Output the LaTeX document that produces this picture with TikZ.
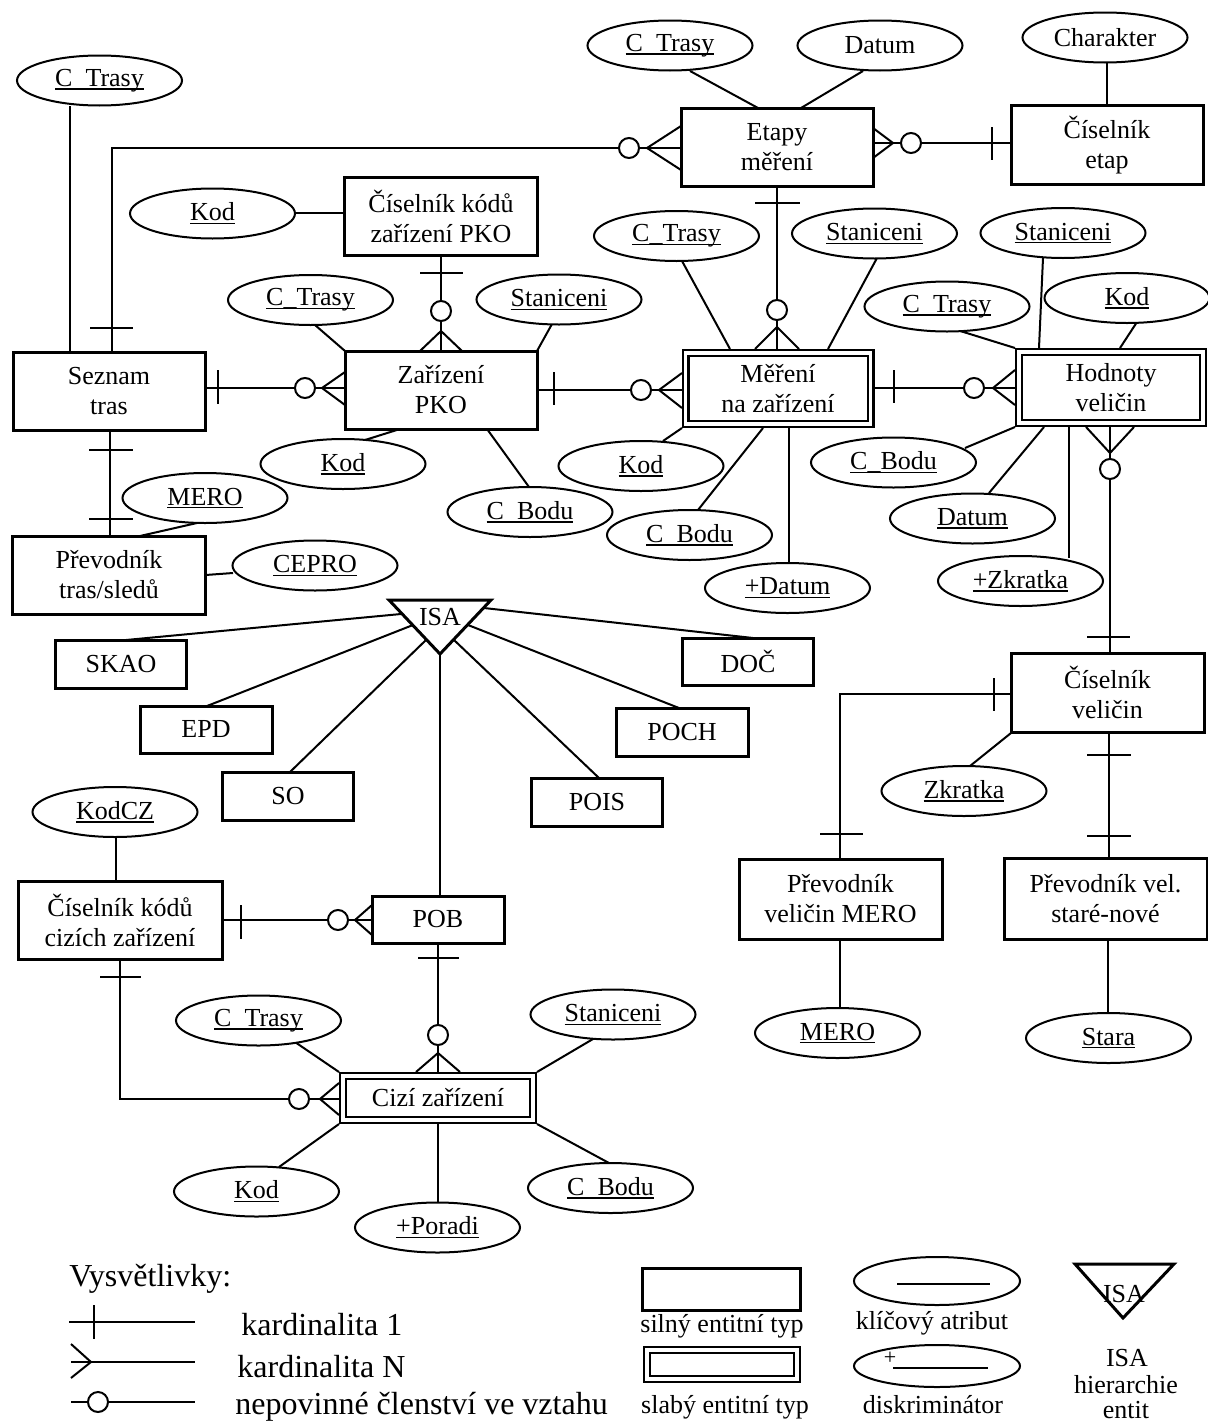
\documentclass[tikz,border=0pt]{standalone}
\usepackage{fontspec}
\setmainfont{Liberation Serif}
\usetikzlibrary{shapes.geometric,calc}
\pgfdeclarelayer{background}
\pgfsetlayers{background,main}
\newcommand\dfont{\fontsize{13}{15}\selectfont}
\newcommand\lfont{\fontsize{16}{18}\selectfont}
\newcommand\keyu[1]{\setbox0=\hbox{#1}\rlap{\rule[-1.6pt]{\wd0}{0.6pt}}\box0}
\begin{document}
\begin{tikzpicture}[x=0.5pt,y=-0.5pt,
  ent/.style={draw,line width=1.5pt,fill=white,align=center,inner sep=0pt,font=\dfont},
  weak/.style={ent,double,line width=1.2pt,double distance=1.6pt},
  attr/.style={ellipse,draw,line width=1pt,fill=white,minimum width=82.5pt,minimum height=25pt,inner sep=0pt,font=\dfont},
  conn/.style={line width=1pt},
  opt/.style={draw,line width=1pt,fill=white},
  lab/.style={font=\dfont,inner sep=0pt,anchor=base},
  leg/.style={font=\lfont,inner sep=0pt,anchor=base west}]
\useasboundingbox (0,0) rectangle (1208,1424);

% ---------- entities ----------
\node[ent,minimum width=96pt,minimum height=39pt] (seznam) at (109,391) {Seznam\\tras};
\node[ent,minimum width=96pt,minimum height=39pt] (etapy) at (777,147) {Etapy\\měření};
\node[ent,minimum width=96pt,minimum height=39.5pt] (cisetap) at (1107,145) {Číselník\\etap};
\node[ent,minimum width=96.5pt,minimum height=39pt] (ckpko) at (441,216) {Číselník kódů\\zařízení PKO};
\node[ent,minimum width=96pt,minimum height=39pt] (zarizeni) at (441,390) {Zařízení\\PKO};
\node[weak,minimum width=92.5pt,minimum height=35.5pt] (mereni) at (778,388.5) {Měření\\na zařízení};
\node[weak,minimum width=92pt,minimum height=35.5pt] (hodnoty) at (1111,387.5) {Hodnoty\\veličin};
\node[ent,minimum width=96.5pt,minimum height=39pt] (prevtras) at (109,575) {Převodník\\tras/sledů};
\node[ent,minimum width=65.5pt,minimum height=24pt] (skao) at (121,664) {SKAO};
\node[ent,minimum width=66pt,minimum height=23.5pt] (epd) at (206,729.5) {EPD};
\node[ent,minimum width=65.5pt,minimum height=24pt] (so) at (288,796) {SO};
\node[ent,minimum width=65.5pt,minimum height=24pt] (pois) at (597,802) {POIS};
\node[ent,minimum width=66pt,minimum height=24pt] (poch) at (682,732) {POCH};
\node[ent,minimum width=65.5pt,minimum height=23.5pt] (doc) at (748,661.5) {DOČ};
\node[ent,minimum width=96.5pt,minimum height=39.5pt] (cisvel) at (1107.5,692.5) {Číselník\\veličin};
\node[ent,minimum width=101.5pt,minimum height=40pt] (prevmero) at (840.5,899) {Převodník\\veličin MERO};
\node[ent,minimum width=101.5pt,minimum height=40.5pt] (prevsn) at (1105.5,898.5) {Převodník vel.\\staré-nové};
\node[ent,minimum width=102pt,minimum height=39pt] (ckciz) at (120,920) {Číselník kódů\\cizích zařízení};
\node[ent,minimum width=66pt,minimum height=23.5pt] (pob) at (438,919.5) {POB};
\node[weak,minimum width=95pt,minimum height=22pt] (cizi) at (438,1098) {Cizí zařízení};

% ---------- ISA ----------
\coordinate (isac) at (440,617);
\draw[line width=1.5pt,fill=white] ($(isac)+(-51,-17)$) -- ($(isac)+(51,-17)$) -- ($(isac)+(0,37)$) -- cycle;
\node[font=\dfont,inner sep=0pt] (isa) at (isac) {ISA};

% ---------- attributes ----------
\node[attr] (a1) at (99.5,80.5) {\keyu{C\_Trasy}};
\node[attr] (a2) at (670,45.5) {\keyu{C\_Trasy}};
\node[attr] (a3) at (880,45.5) {Datum};
\node[attr] (a4) at (1105,37.5) {Charakter};
\node[attr] (a5) at (212.5,213.5) {\keyu{Kod}};
\node[attr] (a6) at (310.5,300) {\keyu{C\_Trasy}};
\node[attr] (a7) at (559,299.5) {\keyu{Staniceni}};
\node[attr] (a8) at (676.5,236) {\keyu{C\_Trasy}};
\node[attr] (a9) at (874.5,233.5) {\keyu{Staniceni}};
\node[attr] (a10) at (1063,233) {\keyu{Staniceni}};
\node[attr] (a11) at (947,306.5) {\keyu{C\_Trasy}};
\node[attr] (a12) at (1127,298) {\keyu{Kod}};
\node[attr] (a13) at (343,464) {\keyu{Kod}};
\node[attr] (a14) at (530,512) {\keyu{C\_Bodu}};
\node[attr] (a15) at (641,466) {\keyu{Kod}};
\node[attr] (a16) at (689.5,535) {\keyu{C\_Bodu}};
\node[attr] (a17) at (787.5,588) {\keyu{+Datum}};
\node[attr] (a18) at (893.5,462.5) {\keyu{C\_Bodu}};
\node[attr] (a19) at (972.5,518.5) {\keyu{Datum}};
\node[attr] (a20) at (1020.5,581) {\keyu{+Zkratka}};
\node[attr] (a21) at (205,498) {\keyu{MERO}};
\node[attr] (a22) at (315,565.5) {\keyu{CEPRO}};
\node[attr] (a23) at (115,812) {\keyu{KodCZ}};
\node[attr] (a24) at (964,791) {\keyu{Zkratka}};
\node[attr] (a25) at (837.5,1033) {\keyu{MERO}};
\node[attr] (a26) at (1108.5,1038) {\keyu{Stara}};
\node[attr] (a27) at (258.5,1020.5) {\keyu{C\_Trasy}};
\node[attr] (a28) at (613,1014.5) {\keyu{Staniceni}};
\node[attr] (a29) at (256.5,1191.5) {\keyu{Kod}};
\node[attr] (a30) at (610.5,1188) {\keyu{C\_Bodu}};
\node[attr] (a31) at (437.5,1227.5) {\keyu{+Poradi}};

% ---------- connectors (behind) ----------
\begin{pgfonlayer}{background}
\fill[white] (0,0) rectangle (1208,1424);
% attribute links
\draw[conn] ($(a1)+(-29.5,25.5)$) -- ($(seznam)+(-39,-39)$);
\draw[conn] ($(a2)+(20,25.5)$) -- ($(etapy)+(-19,-39)$);
\draw[conn] ($(a3)+(-17,25.5)$) -- ($(etapy)+(24,-39)$);
\draw[conn] ($(a4)+(2,24.5)$) -- ($(cisetap)+(0,-39)$);
\draw[conn] ($(a5)+(82.5,-0.5)$) -- ($(ckpko)+(-96,-3)$);
\draw[conn] ($(a6)+(4.5,25)$) -- ($(zarizeni)+(-96,-39)$);
\draw[conn] ($(a7)+(-7,24.5)$) -- ($(zarizeni)+(96,-39)$);
\draw[conn] ($(a8)+(5.5,25)$) -- ($(mereni)+(-48,-39.5)$);
\draw[conn] ($(a9)+(2.5,24.5)$) -- ($(mereni)+(50,-39.5)$);
\draw[conn] ($(a10)+(-20,25)$) -- ($(hodnoty)+(-72,-39.5)$);
\draw[conn] ($(a11)+(10,23.5)$) -- ($(hodnoty)+(-96,-39.5)$);
\draw[conn] ($(a12)+(10,24)$) -- ($(hodnoty)+(9,-39.5)$);
\draw[conn] ($(a13)+(22,-24)$) -- ($(zarizeni)+(-41,39)$);
\draw[conn] ($(a14)+(-1,-25)$) -- ($(zarizeni)+(46,39)$);
\draw[conn] ($(a15)+(22,-25)$) -- ($(mereni)+(-96,39.5)$);
\draw[conn] ($(a16)+(8.5,-25)$) -- ($(mereni)+(-15,39.5)$);
\draw[conn] ($(a17)+(1.5,-25)$) -- ($(mereni)+(11,39.5)$);
\draw[conn] ($(a18)+(71.5,-14.5)$) -- ($(hodnoty)+(-96,39.5)$);
\draw[conn] ($(a19)+(16.5,-25.5)$) -- ($(hodnoty)+(-67,39.5)$);
\draw[conn] ($(a20)+(48.5,-23)$) -- ($(hodnoty)+(-42,39.5)$);
\draw[conn] ($(a21)+(-8,25)$) -- ($(prevtras)+(31,-39)$);
\draw[conn] ($(a22)+(-82,7.5)$) -- ($(prevtras)+(96.5,0)$);
\draw[conn] ($(a23)+(1,25)$) -- ($(ckciz)+(-4,-39)$);
\draw[conn] ($(a24)+(6,-25)$) -- ($(cisvel)+(-96.5,40.5)$);
\draw[conn] ($(a25)+(2.5,-25)$) -- ($(prevmero)+(-0.5,40)$);
\draw[conn] ($(a26)+(-0.5,-25)$) -- ($(prevsn)+(2.5,40.5)$);
\draw[conn] ($(a27)+(33.5,19.5)$) -- ($(cizi)+(-99,-26)$);
\draw[conn] ($(a28)+(-20,24.5)$) -- ($(cizi)+(99,-26)$);
\draw[conn] ($(a29)+(22.5,-24.5)$) -- ($(cizi)+(-99,26)$);
\draw[conn] ($(a30)+(-1.5,-25)$) -- ($(cizi)+(99,26)$);
\draw[conn] ($(a31)+(0.5,-24.5)$) -- ($(cizi)+(0,26)$);
% ISA links
\draw[conn] ($(skao)+(5,-24)$) -- ($(isa)+(-39,-3)$);
\draw[conn] ($(epd)+(1,-23.5)$) -- ($(isa)+(-27,8)$);
\draw[conn] ($(so)+(2,-24)$) -- ($(isa)+(-14,23)$);
\draw[conn] ($(pob)+(2,-23.5)$) -- ($(isa)+(0,37)$);
\draw[conn] ($(pois)+(2,-24)$) -- ($(isa)+(14,23)$);
\draw[conn] ($(poch)+(-3,-24)$) -- ($(isa)+(28,8)$);
\draw[conn] ($(doc)+(5,-23.5)$) -- ($(isa)+(44,-9)$);
% relationships
\draw[conn] ($(seznam)+(3,-39)$) |- ($(etapy)+(-96,1)$);
\draw[conn] ($(etapy)+(96,-4)$) -- ($(cisetap)+(-96,-2)$);
\draw[conn] ($(etapy)+(0,39)$) -- ($(mereni)+(-1,-39.5)$);
\draw[conn] ($(ckpko)+(0,39)$) -- ($(zarizeni)+(0,-39)$);
\draw[conn] ($(seznam)+(96,-3)$) -- ($(zarizeni)+(-96,-2)$);
\draw[conn] ($(zarizeni)+(96,0)$) -- ($(mereni)+(-96,1.5)$);
\draw[conn] ($(mereni)+(96.5,-0.5)$) -- ($(hodnoty)+(-96,0.5)$);
\draw[conn] ($(hodnoty)+(-1,39.5)$) -- ($(cisvel)+(2.5,-39.5)$);
\draw[conn] ($(cisvel)+(-96.5,1.5)$) -| ($(prevmero)+(-0.5,-40)$);
\draw[conn] ($(cisvel)+(1.5,39.5)$) -- ($(prevsn)+(3.5,-40.5)$);
\draw[conn] ($(seznam)+(1,39)$) -- ($(prevtras)+(1,-39)$);
\draw[conn] ($(ckciz)+(102,0)$) -- ($(pob)+(-66,0.5)$);
\draw[conn] ($(pob)+(0,23.5)$) -- ($(cizi)+(0,-26)$);
\draw[conn] ($(ckciz)+(0,39)$) |- ($(cizi)+(-99,1)$);
\end{pgfonlayer}

% ---------- cardinality marks ----------
% Seznam - Etapy
\draw[conn] ($(seznam)+(-19,-63)$) -- ++(43,0);
\draw[conn] ($(etapy)+(-96,-21)$) -- ($(etapy)+(-130,1)$) -- ($(etapy)+(-96,23)$);
\draw[opt] ($(etapy)+(-148,1)$) circle[radius=5pt];
% Etapy - Ciselnik etap
\draw[conn] ($(etapy)+(96,-19)$) -- ($(etapy)+(116,-4)$) -- ($(etapy)+(96,11)$);
\draw[opt] ($(etapy)+(134,-4)$) circle[radius=5pt];
\draw[conn] ($(cisetap)+(-115,-18)$) -- ++(0,33);
% Etapy - Mereni
\draw[conn] ($(etapy)+(-22,56)$) -- ++(45,0);
\draw[opt] ($(etapy)+(0,163)$) circle[radius=5pt];
\draw[conn] ($(mereni)+(-23,-39.5)$) -- ($(mereni)+(-1,-61.5)$) -- ($(mereni)+(21,-39.5)$);
% Ciselnik kodu PKO - Zarizeni
\draw[conn] ($(ckpko)+(-21,57)$) -- ++(43,0);
\draw[opt] ($(zarizeni)+(0,-79)$) circle[radius=5pt];
\draw[conn] ($(zarizeni)+(-21,-39)$) -- ($(zarizeni)+(0,-59)$) -- ($(zarizeni)+(21,-39)$);
% Seznam - Zarizeni
\draw[conn] ($(seznam)+(109,-21)$) -- ++(0,34);
\draw[opt] ($(zarizeni)+(-136,-2)$) circle[radius=5pt];
\draw[conn] ($(zarizeni)+(-96,-18)$) -- ($(zarizeni)+(-119,-2)$) -- ($(zarizeni)+(-96,15)$);
% Zarizeni - Mereni
\draw[conn] ($(zarizeni)+(113,-18)$) -- ++(0,33);
\draw[opt] ($(mereni)+(-137,1.5)$) circle[radius=5pt];
\draw[conn] ($(mereni)+(-96,-15.5)$) -- ($(mereni)+(-119,1.5)$) -- ($(mereni)+(-96,19.5)$);
% Mereni - Hodnoty
\draw[conn] ($(mereni)+(116,-18.5)$) -- ++(0,33);
\draw[opt] ($(hodnoty)+(-137,0.5)$) circle[radius=5pt];
\draw[conn] ($(hodnoty)+(-96,-17.5)$) -- ($(hodnoty)+(-118,0.5)$) -- ($(hodnoty)+(-96,17.5)$);
% Hodnoty - Ciselnik velicin
\draw[conn] ($(hodnoty)+(-25,39.5)$) -- ($(hodnoty)+(-1,65.5)$) -- ($(hodnoty)+(23,39.5)$);
\draw[opt] ($(hodnoty)+(-1,81.5)$) circle[radius=5pt];
\draw[conn] ($(cisvel)+(-20.5,-55.5)$) -- ++(43,0);
% Ciselnik velicin - Prevodnik velicin MERO
\draw[conn] ($(cisvel)+(-113.5,-14.5)$) -- ++(0,33);
\draw[conn] ($(prevmero)+(-20.5,-65)$) -- ++(43,0);
% Ciselnik velicin - Prevodnik stare-nove
\draw[conn] ($(cisvel)+(-20.5,62.5)$) -- ++(44,0);
\draw[conn] ($(prevsn)+(-18.5,-62.5)$) -- ++(44,0);
% Seznam - Prevodnik tras
\draw[conn] ($(seznam)+(-20,59)$) -- ++(44,0);
\draw[conn] ($(prevtras)+(-20,-56)$) -- ++(44,0);
% Ciselnik kodu cizich - POB
\draw[conn] ($(ckciz)+(121,-15)$) -- ++(0,34);
\draw[opt] ($(pob)+(-100,0.5)$) circle[radius=5pt];
\draw[conn] ($(pob)+(-66,-14.5)$) -- ($(pob)+(-83,0.5)$) -- ($(pob)+(-66,15.5)$);
% POB - Cizi
\draw[conn] ($(pob)+(-20,38.5)$) -- ++(41,0);
\draw[opt] ($(cizi)+(0,-63)$) circle[radius=5pt];
\draw[conn] ($(cizi)+(-22,-26)$) -- ($(cizi)+(0,-45)$) -- ($(cizi)+(22,-26)$);
% Ciselnik kodu cizich - Cizi
\draw[conn] ($(ckciz)+(-20,57)$) -- ++(41,0);
\draw[opt] ($(cizi)+(-139,1)$) circle[radius=5pt];
\draw[conn] ($(cizi)+(-99,-15)$) -- ($(cizi)+(-118,1)$) -- ($(cizi)+(-99,17)$);

% ---------- legend ----------
\node[leg] (lvys) at (69,1286) {Vysvětlivky:};
\draw[conn] (69,1322) -- (195,1322);
\draw[conn] (94,1305) -- (94,1339);
\node[leg] (lk1) at (241,1335) {kardinalita 1};
\draw[conn] (71,1362) -- (195,1362);
\draw[conn] (71,1344) -- (91,1362) -- (71,1378);
\node[leg] (lkn) at (237,1377) {kardinalita N};
\draw[conn] (71,1402) -- (195,1402);
\draw[opt] (98,1402) circle[radius=5pt];
\node[leg] (lnep) at (235,1414) {nepovinné členství ve vztahu};

\node[ent,minimum width=79pt,minimum height=21pt] (legstrong) at (721,1289) {};
\node[lab] (lsil) at (722,1332) {silný entitní typ};
\node[weak,minimum width=75pt,minimum height=14.5pt] (legweak) at (722,1364.5) {};
\node[lab] (lsla) at (725,1413) {slabý entitní typ};
\node[attr,minimum width=83pt,minimum height=24pt] (legkey) at (937,1281) {};
\draw[conn] ($(legkey)+(-40,3)$) -- ($(legkey)+(53,3)$);
\node[lab] (lkli) at (932,1329) {klíčový atribut};
\node[attr,minimum width=83pt,minimum height=21pt] (legdisc) at (937,1366) {};
\node[font=\fontsize{11}{12}\selectfont,inner sep=0pt] (legplus) at (890,1358) {+};
\draw[conn] ($(legdisc)+(-44,2)$) -- ($(legdisc)+(51,2)$);
\node[lab] (ldis) at (933,1413) {diskriminátor};
\draw[line width=1.5pt] (1075,1264) -- (1174,1264) -- (1123,1318) -- cycle;
\node[lab] (lisat) at (1124,1302) {ISA};
\node[lab] (lisa1) at (1127,1366) {ISA};
\node[lab] (lisa2) at (1126,1393) {hierarchie};
\node[lab] (lisa3) at (1126,1418) {entit};
\end{tikzpicture}
\end{document}
